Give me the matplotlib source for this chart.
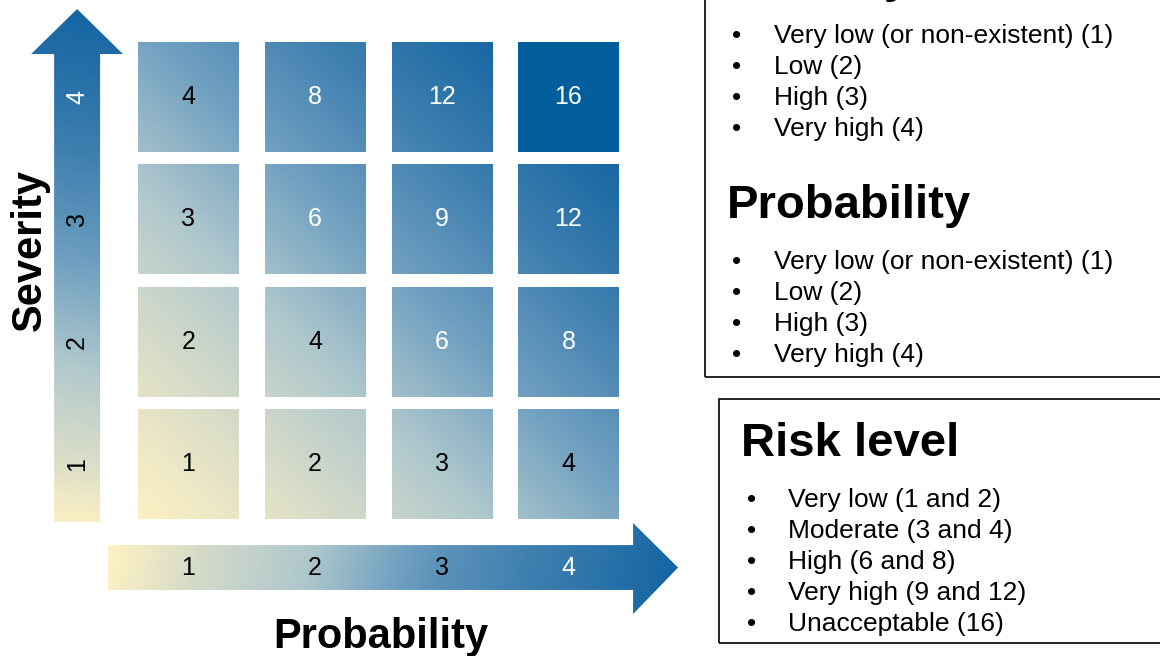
import numpy as np
import matplotlib
matplotlib.use("Agg")
import matplotlib.pyplot as plt
from matplotlib.colors import LinearSegmentedColormap
from matplotlib.patches import Rectangle, Polygon

# ---- data -------------------------------------------------------------
probability_levels = [1, 2, 3, 4]
severity_levels = [1, 2, 3, 4]
severity_items = ["Very low (or non-existent) (1)", "Low (2)", "High (3)", "Very high (4)"]
probability_items = ["Very low (or non-existent) (1)", "Low (2)", "High (3)", "Very high (4)"]
risk_items = ["Very low (1 and 2)", "Moderate (3 and 4)", "High (6 and 8)",
              "Very high (9 and 12)", "Unacceptable (16)"]

FONT = "Liberation Sans"
W, H = 1160, 656

cmap = LinearSegmentedColormap.from_list(
    "risk", [(0.0, "#FDF1C3"), (0.2, "#DCDEC8"), (0.4, "#B0C8CD"),
             (0.6, "#6F9FC0"), (0.8, "#3D7EAF"), (1.0, "#1565A3")])
TOP_COLOR = "#035E9E"

fig = plt.figure(figsize=(W / 100, H / 100), dpi=100)
ax = fig.add_axes([0, 0, 1, 1])
ax.set_axis_off()

# matrix cell geometry in level units
HW, HH = 0.395, 0.45


def gradient_fill(patch, x0, x1, y0, y1, tfunc):
    xs = np.linspace(x0, x1, 240)
    ys = np.linspace(y0, y1, 240)
    X, Y = np.meshgrid(xs, ys)
    T = np.clip(tfunc(X, Y), 0, 1)
    im = ax.imshow(T, extent=[x0, x1, y0, y1], origin="lower", cmap=cmap,
                   vmin=0, vmax=1, interpolation="bilinear", aspect="auto")
    ax.add_patch(patch)
    im.set_clip_path(patch)


def cell_t(X, Y):
    return ((X - 0.6) + (Y - 0.55)) / 6.8


def ramp(t, knots, values):
    # shape of the colour ramp along an arrow
    return np.interp(np.clip(t, 0, 1), knots, values)


risk_max = max(probability_levels) * max(severity_levels)
for s in severity_levels:
    for p in probability_levels:
        risk = p * s
        x0, x1 = p - HW, p + HW
        y0, y1 = s - HH, s + HH
        if risk == risk_max:
            ax.add_patch(Rectangle((x0, y0), x1 - x0, y1 - y0,
                                   facecolor=TOP_COLOR, edgecolor="none"))
        else:
            rect = Rectangle((x0, y0), x1 - x0, y1 - y0,
                             facecolor="none", edgecolor="none")
            gradient_fill(rect, x0, x1, y0, y1, cell_t)
        ax.text(p, s, str(risk), ha="center", va="center", fontsize=18,
                family=FONT, color="black" if risk <= 4 else "white")

# ---- horizontal (probability) arrow ----------------------------------
hx0, hxb, hxt = 0.366, 4.51, 4.865
hs0, hs1 = -0.031, 0.336
hh0, hh1 = -0.228, 0.516
hyc = (hs0 + hs1) / 2
harrow = Polygon([(hx0, hs0), (hxb, hs0), (hxb, hh0), (hxt, hyc),
                  (hxb, hh1), (hxb, hs1), (hx0, hs1)], closed=True,
                 facecolor="none", edgecolor="none")
gradient_fill(harrow, hx0, hxt, hh0, hh1,
              lambda X, Y: ramp((X - hx0) / (hxt - hx0) - 0.06 * (Y - hyc),
                                [0, 0.14, 0.363, 0.585, 0.807, 1],
                                [0, 0.22, 0.42, 0.68, 0.84, 1]))
for p in probability_levels:
    ax.text(p, hyc, str(p), ha="center", va="center", fontsize=18,
            family=FONT, color="white" if p == max(probability_levels) else "black")

# ---- vertical (severity) arrow ----------------------------------------
vy0, vyb, vyt = 0.525, 4.351, 4.719
vs0, vs1 = -0.060, 0.303
vh0, vh1 = -0.242, 0.484
vxc = (vs0 + vs1) / 2
varrow = Polygon([(vs0, vy0), (vs1, vy0), (vs1, vyb), (vh1, vyb), (vxc, vyt),
                  (vh0, vyb), (vs0, vyb)], closed=True,
                 facecolor="none", edgecolor="none")
gradient_fill(varrow, vh0, vh1, vy0, vyt,
              lambda X, Y: ramp((Y - vy0) / (vyt - vy0) + 0.05 * (X - vxc),
                                [0, 0.113, 0.352, 0.59, 0.83, 1],
                                [0.02, 0.2, 0.45, 0.68, 0.88, 1]))
for s in severity_levels:
    ax.text(vxc, s, str(s), ha="center", va="center", fontsize=18, rotation=90,
            family=FONT, color="white" if s == max(severity_levels) else "black")

# axis titles
ax.text(-0.25, 2.75, "Severity", rotation=90, ha="center", va="center",
        fontsize=30, fontweight="bold", family=FONT)
ax.text(2.52, -0.506, "Probability", ha="center", va="baseline",
        fontsize=30, fontweight="bold", family=FONT)

ax.set_xlim(-0.487, 8.669)
ax.set_ylim(-0.571, 4.793)

# ---- legend panels (pixel layout -> figure fraction) -------------------
def fx(px):
    return px / W


def fy(py):
    return 1 - py / H


def panel(left, top, bottom):
    fig.patches.append(Rectangle((fx(left), fy(bottom)), fx(1300 - left),
                                 fy(top) - fy(bottom), transform=fig.transFigure,
                                 facecolor="none", edgecolor="black", linewidth=1.2))


def heading(x, base, txt):
    fig.text(fx(x), fy(base), txt, ha="left", va="baseline", fontsize=34,
             fontweight="bold", family=FONT)


def bullets(xb, xt, base0, items, step=31):
    for i, item in enumerate(items):
        y = fy(base0 + i * step)
        fig.text(fx(xb), y, "\u2022", ha="center", va="baseline", fontsize=19, family=FONT)
        fig.text(fx(xt), y, item, ha="left", va="baseline", fontsize=19, family=FONT)


panel(705, -40, 377)
heading(727, -8, "Severity")
bullets(737, 774, 43, severity_items)
heading(727, 218, "Probability")
bullets(737, 774, 269, probability_items)

panel(719, 399, 643)
heading(741, 456, "Risk level")
bullets(752, 788, 507, risk_items)

fig.savefig("out.png", dpi=100)
